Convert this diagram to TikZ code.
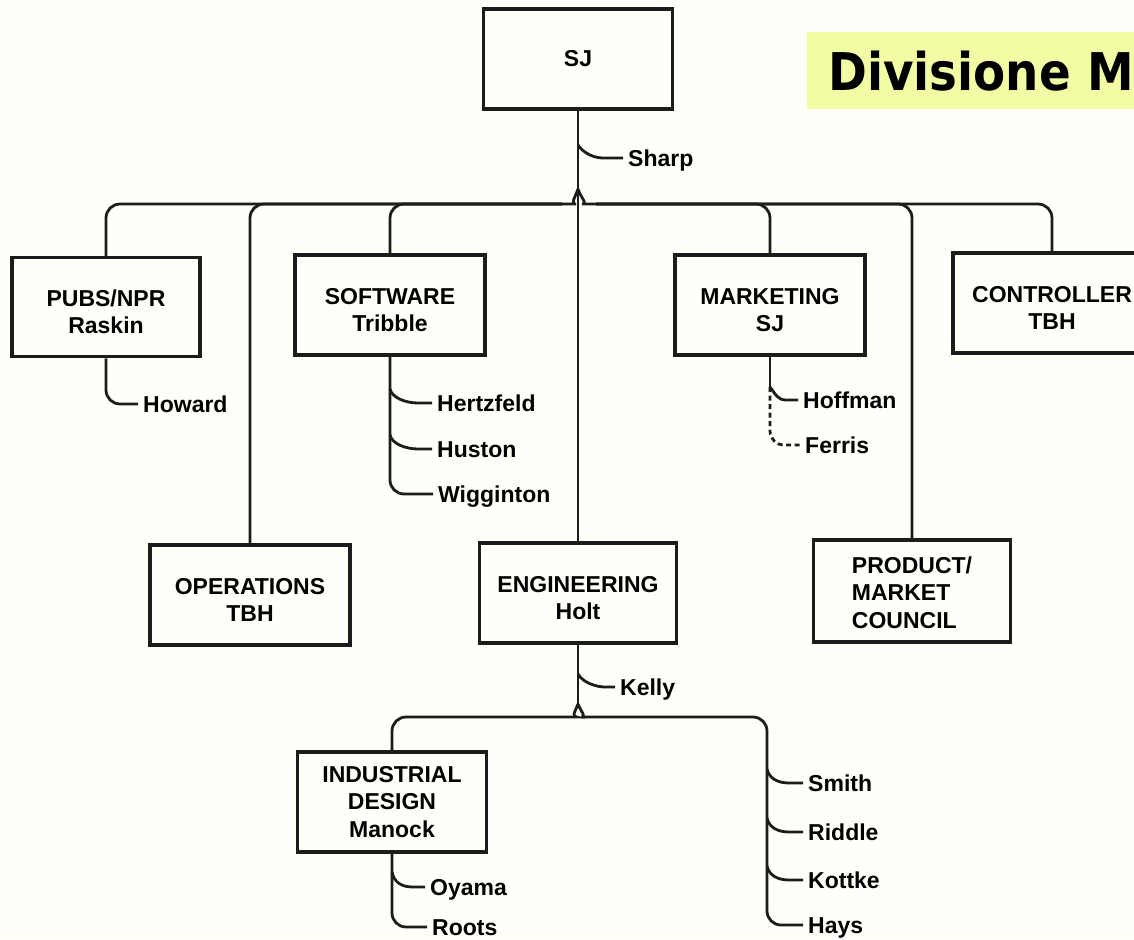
\documentclass[tikz,border=0pt]{standalone}
\usepackage{fontspec}
\setmainfont{Liberation Sans}
\newfontfamily\titlefont[FakeStretch=0.9]{DejaVu Sans}
\usetikzlibrary{calc}
\definecolor{ink}{RGB}{28,28,28}
\definecolor{paper}{RGB}{253,255,248}
\definecolor{hilite}{RGB}{242,252,165}
% strut that lowers the first line of a two-line box label
\newcommand{\firstlinestrut}{\rule{0pt}{26pt}}
\begin{document}
\begin{tikzpicture}[x=1pt,y=-1pt,
  unit/.style={draw=ink, line width=3.5pt, minimum width=190pt, minimum height=100pt,
    align=center, inner sep=0pt, font=\bfseries\fontsize{23}{27.5}\selectfont},
  person/.style={anchor=west, inner xsep=5pt, inner ysep=0pt, text height=16.5pt,
    text depth=0pt, font=\bfseries\fontsize{23}{27.5}\selectfont},
  link/.style={draw=ink, line width=2.8pt, rounded corners=14pt},
  dashlink/.style={link, dash pattern=on 5pt off 3.5pt},
  tick/.style={draw=ink, line width=2.8pt},
]
% page
\fill[paper] (0,0) rectangle (1134,939);
\useasboundingbox (0,0) rectangle (1134,939);

% title tag
\fill[hilite] (807,32) rectangle (1140,109);
\node[anchor=base west, inner sep=0pt, font=\titlefont\bfseries\fontsize{52}{60}\selectfont]
  (title) at (828,91) {Divisione M};

% units
\node[unit, minimum width=189pt] (sj) at (578,59) {SJ};
\node[unit, minimum width=188pt, minimum height=99pt] (pubs) at (106,307) {\firstlinestrut PUBS/NPR\\Raskin};
\node[unit] (soft) at (390,305) {\firstlinestrut SOFTWARE\\Tribble};
\node[unit] (mkt) at (770,305) {\firstlinestrut MARKETING\\SJ};
\node[unit, minimum width=198pt] (ctrl) at (1052,303) {\firstlinestrut CONTROLLER\\TBH};
\node[unit, minimum width=200pt] (ops) at (250,595) {\firstlinestrut OPERATIONS\\TBH};
\node[unit, minimum width=197pt] (eng) at (578,593) {\firstlinestrut ENGINEERING\\Holt};
\node[unit, minimum width=197pt, minimum height=102pt, align=left] (council) at (912,591)
  {\rule{0pt}{20pt}PRODUCT/\\MARKET\\COUNCIL};
\node[unit, minimum width=189pt] (ind) at (392,802) {INDUSTRIAL\\DESIGN\\Manock};

% people
\node[person] (sharp) at (623,158) {Sharp};
\node[person] (howard) at (138,404) {Howard};
\node[person] (hertz) at (432,403) {Hertzfeld};
\node[person] (huston) at (432,449) {Huston};
\node[person] (wigg) at (433,494) {Wigginton};
\node[person] (hoff) at (798,400) {Hoffman};
\node[person] (ferris) at (800,445) {Ferris};
\node[person] (kelly) at (615,687) {Kelly};
\node[person] (smith) at (803,783) {Smith};
\node[person] (riddle) at (803,832) {Riddle};
\node[person] (kottke) at (803,880) {Kottke};
\node[person] (hays) at (803,925) {Hays};
\node[person] (oyama) at (425,887) {Oyama};
\node[person] (roots) at (427,927) {Roots};

% top split
\coordinate (top) at (sj.south |- 0,189);
\coordinate (barL) at (562,204);
\coordinate (barR) at (596,204);
\draw[tick] (sj.south) -- (sj.south |- eng.north);
\draw[link] (top) .. controls +(-3,9) and +(8,0) .. (barL) -| (pubs.north);
\draw[link] (barL) -| (ops.north);
\draw[link] (barL) -| (soft.north);
\draw[link] (top) .. controls +(3,9) and +(-8,0) .. (barR) -| (ctrl.north);
\draw[link] (barR) -| (mkt.north);
\draw[link] (barR) -| (council.north);

% Sharp
\coordinate (shp) at (sj.south |- sharp.west);
\draw[tick] ([yshift=13pt]shp) .. controls +(6,9) and +(-8,0) .. ([xshift=-20pt]sharp.west) -- (sharp.west);

% PUBS/NPR staff
\draw[link] (pubs.south) |- (howard.west);

% SOFTWARE staff
\coordinate (sw1) at (soft.south |- hertz.west);
\coordinate (sw2) at (soft.south |- huston.west);
\draw[link] (soft.south) |- (wigg.west);
\draw[tick] ([yshift=14pt]sw1) .. controls +(2,9) and +(-12,0) .. ([xshift=-14pt]hertz.west) -- (hertz.west);
\draw[tick] ([yshift=14pt]sw2) .. controls +(2,9) and +(-12,0) .. ([xshift=-14pt]huston.west) -- (huston.west);

% MARKETING staff
\coordinate (mk1) at (mkt.south |- hoff.west);
\draw[tick] (mkt.south) -- ([yshift=13pt]mk1);
\draw[tick] ([yshift=13pt]mk1) .. controls +(6,8) and +(-8,0) .. ([xshift=-12pt]hoff.west) -- (hoff.west);
\draw[dashlink] ([yshift=13pt]mk1) |- (ferris.west);

% ENGINEERING split
\coordinate (low) at (eng.south |- 0,704);
\coordinate (barL2) at (563,717);
\coordinate (barR2) at (595,717);
\coordinate (ecol) at (767,717);
\draw[tick] (eng.south) -- (low);
\draw[link] (low) .. controls +(-3,8) and +(8,0) .. (barL2) -| (ind.north);
\draw[link] (low) .. controls +(3,8) and +(-8,0) .. (barR2) -- (ecol) |- (hays.west);

% Kelly
\coordinate (kl) at (eng.south |- kelly.west);
\draw[tick] ([yshift=13pt]kl) .. controls +(5,9) and +(-8,0) .. ([xshift=-10pt]kelly.west) -- (kelly.west);

% engineering staff
\foreach \who in {smith,riddle,kottke}{
  \coordinate (e-\who) at (ecol |- \who.west);
  \draw[tick] ([yshift=14pt]e-\who) .. controls +(2,9) and +(-12,0) .. ([xshift=-14pt]\who.west) -- (\who.west);
}

% INDUSTRIAL DESIGN staff
\coordinate (id1) at (ind.south |- oyama.west);
\draw[link] (ind.south) |- (roots.west);
\draw[tick] ([yshift=15pt]id1) .. controls +(2,10) and +(-12,0) .. ([xshift=-12pt]oyama.west) -- (oyama.west);
\end{tikzpicture}
\end{document}
